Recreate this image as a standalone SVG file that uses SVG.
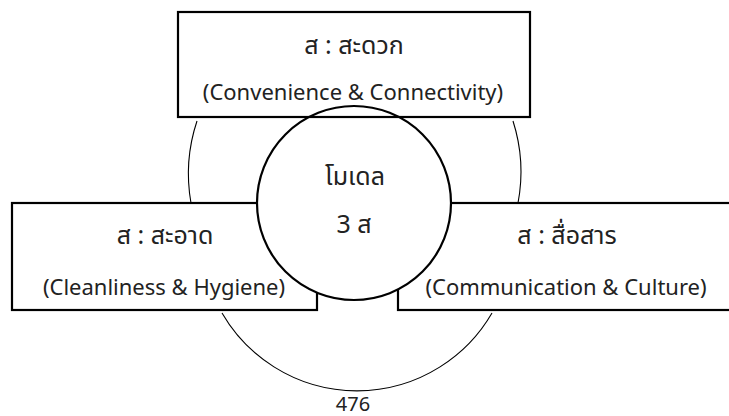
<svg xmlns="http://www.w3.org/2000/svg" width="729" height="416" viewBox="0 0 729 416">
<style>
.box{fill:#fff;stroke:#000;stroke-width:2.2}
.open{fill:none;stroke:#000;stroke-width:2.2}
.arc{fill:none;stroke:#000;stroke-width:1.1}
text{font-family:'Noto Sans','Noto Sans Thai',Loma,sans-serif;font-size:22px;fill:#222;text-anchor:middle}
.th{font-size:25px}
.pg{font-size:20px}
</style>
<rect width="729" height="416" fill="#fff"/>
<g id="connectors">
<path class="arc" d="M 197 121 A 167 167 0 0 0 191 203"/>
<path class="arc" d="M 513 121 A 167 167 0 0 1 518 203"/>
<path class="arc" d="M 222 313 A 156 156 0 0 0 492 313"/>
</g>
<g id="node-clean">
<rect class="box" x="12" y="203" width="305" height="107"/>
<text class="th" x="165" y="244">ส : สะอาด</text>
<text x="164" y="295">(Cleanliness &amp; Hygiene)</text>
</g>
<g id="node-comm">
<rect class="box" x="398" y="203" width="340" height="107"/>
<text class="th" x="567" y="244">ส : สื่อสาร</text>
<text x="566" y="295">(Communication &amp; Culture)</text>
</g>
<g id="node-model">
<circle class="box" cx="354" cy="203" r="97"/>
<text class="th" x="355" y="185">โมเดล</text>
<text class="th" x="354" y="233">3 ส</text>
</g>
<g id="node-convenience">
<rect class="open" x="178" y="12" width="352" height="105"/>
<text class="th" x="354" y="54">ส : สะดวก</text>
<text x="353" y="100">(Convenience &amp; Connectivity)</text>
</g>
<text class="pg" x="353" y="411">476</text>
</svg>
